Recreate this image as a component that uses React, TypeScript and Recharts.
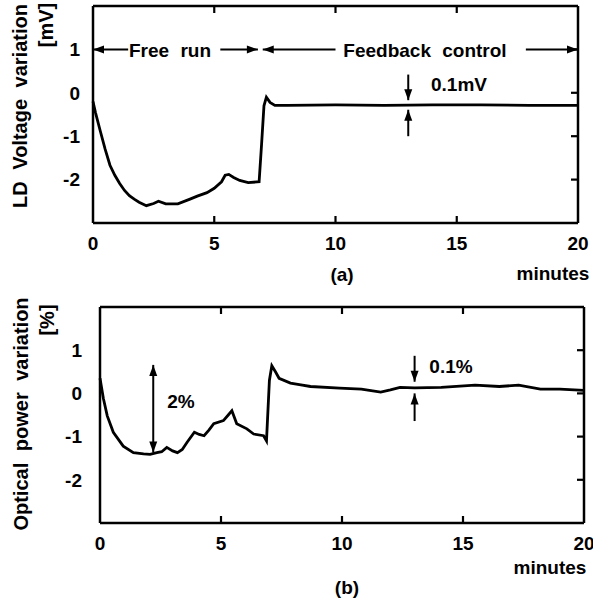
import React from 'react';
import { LineChart, Line, XAxis, YAxis, ReferenceLine } from 'recharts';

const xTicks = [0, 5, 10, 15, 20];
const yTicks = [-2, -1, 0, 1];
const innerXTicks = [5, 10, 15];

// (a) LD voltage variation [mV] vs minutes
const ldTime = [0, 0.1, 0.3, 0.5, 0.7, 0.9, 1.1, 1.3, 1.5, 1.7, 1.9, 2.2, 2.5, 2.7, 3.0, 3.5, 4.0, 4.3, 4.7, 5.0, 5.3, 5.45, 5.6, 5.8, 6.05, 6.4, 6.85, 6.95, 7.05, 7.15, 7.3, 7.5, 8, 10, 12, 14, 16, 18, 20];
const ldVoltage = [-0.2, -0.45, -0.88, -1.3, -1.67, -1.9, -2.09, -2.25, -2.37, -2.45, -2.52, -2.6, -2.55, -2.5, -2.56, -2.56, -2.45, -2.38, -2.3, -2.2, -2.05, -1.9, -1.88, -1.95, -2.02, -2.07, -2.05, -1.2, -0.3, -0.1, -0.22, -0.29, -0.29, -0.28, -0.29, -0.28, -0.28, -0.29, -0.29];

// (b) optical power variation [%] vs minutes
const powerTime = [0, 0.14, 0.3, 0.55, 0.96, 1.38, 1.8, 2.07, 2.35, 2.55, 2.76, 3.0, 3.2, 3.4, 3.6, 3.9, 4.1, 4.3, 4.5, 4.7, 5.1, 5.3, 5.45, 5.65, 6.07, 6.35, 6.76, 6.88, 7.0, 7.1, 7.25, 7.4, 7.87, 8.3, 8.7, 9.9, 10.8, 11.6, 12.0, 12.4, 13.0, 14.1, 15.5, 16.5, 17.3, 18.2, 19.0, 20];
const powerVariation = [0.35, -0.12, -0.52, -0.9, -1.22, -1.37, -1.4, -1.41, -1.37, -1.35, -1.25, -1.33, -1.37, -1.3, -1.13, -0.9, -0.95, -0.98, -0.85, -0.7, -0.63, -0.5, -0.4, -0.7, -0.82, -0.94, -0.98, -1.1, 0.3, 0.64, 0.5, 0.35, 0.24, 0.2, 0.16, 0.12, 0.1, 0.03, 0.08, 0.14, 0.13, 0.14, 0.19, 0.16, 0.19, 0.1, 0.1, 0.07];

// annotation arrows in data units: [x1, y1, x2, y2, doubleHeaded]
const ldArrows: [number, number, number, number, boolean][] = [
  [1.45, 1, 0, 1, false],
  [5.25, 1, 6.8, 1, false],
  [10.0, 1, 7.0, 1, false],
  [17.85, 1, 20, 1, false],
  [13, 0.42, 13, -0.17, false],
  [13, -1.0, 13, -0.39, false],
];
const powerArrows: [number, number, number, number, boolean][] = [
  [2.2, -1.37, 2.2, 0.66, true],
  [13, 0.87, 13, 0.27, false],
  [13, -0.64, 13, 0.0, false],
];

const ldData = ldTime.map((t, i) => ({ t, v: ldVoltage[i] }));
const powerData = powerTime.map((t, i) => ({ t, v: powerVariation[i] }));

const FONT = '"Liberation Sans", Arial, sans-serif';
const tickStyle = { fill: '#000', fontSize: 19, fontWeight: 700, fontFamily: FONT };
const axisLineStyle = { stroke: '#000', strokeWidth: 2.5 };
const TICK_LEN = 7;

const headPoints = (x: number, y: number, fx: number, fy: number) => {
  const dx = x - fx;
  const dy = y - fy;
  const len = Math.hypot(dx, dy) || 1;
  const ux = dx / len;
  const uy = dy / len;
  const L = 11;
  const W = 4;
  const bx = x - ux * L;
  const by = y - uy * L;
  return `${x},${y} ${bx - uy * W},${by + ux * W} ${bx + uy * W},${by - ux * W}`;
};

const arrowShape = (both: boolean) => (props: any) => {
  const { x1, y1, x2, y2 } = props;
  if (x1 == null || y1 == null) return null;
  return (
    <g>
      <line x1={x1} y1={y1} x2={x2} y2={y2} stroke="#000" strokeWidth={2} />
      <polygon points={headPoints(x2, y2, x1, y1)} fill="#000" />
      {both && <polygon points={headPoints(x1, y1, x2, y2)} fill="#000" />}
    </g>
  );
};

// inward tick marks: only the ends of a full-height / full-width reference line
const vTickShape = (props: any) => {
  const { x1, y1, y2 } = props;
  if (x1 == null) return null;
  const top = Math.min(y1, y2);
  const bottom = Math.max(y1, y2);
  return (
    <g>
      <line x1={x1} x2={x1} y1={top} y2={top + TICK_LEN} stroke="#000" strokeWidth={2.2} />
      <line x1={x1} x2={x1} y1={bottom - TICK_LEN} y2={bottom} stroke="#000" strokeWidth={2.2} />
    </g>
  );
};

const hTickShape = (props: any) => {
  const { x1, x2, y1 } = props;
  if (y1 == null) return null;
  const right = Math.max(x1, x2);
  return <line x1={right - TICK_LEN} x2={right} y1={y1} y2={y1} stroke="#000" strokeWidth={2.2} />;
};

const Txt = ({ x, y, text, rotate, size = 19 }: { x: number; y: number; text: string; rotate?: boolean; size?: number }) => (
  <div
    style={{
      position: 'absolute',
      left: x,
      top: y,
      transform: 'translate(-50%, -50%)' + (rotate ? ' rotate(-90deg)' : ''),
      whiteSpace: 'nowrap',
      fontSize: size,
      fontWeight: 700,
      lineHeight: 1,
      wordSpacing: 6,
      fontFamily: FONT,
      color: '#000',
    }}
  >
    {text}
  </div>
);

interface PanelProps {
  data: { t: number; v: number }[];
  arrows: [number, number, number, number, boolean][];
  height: number;
  margin: { top: number; right: number; bottom: number; left: number };
  leftTickMargin: number;
}

const Panel = ({ data, arrows, height, margin, leftTickMargin }: PanelProps) => (
  <LineChart width={593} height={height} data={data} margin={margin}>
    <XAxis
      dataKey="t"
      type="number"
      domain={[0, 20]}
      ticks={xTicks}
      interval={0}
      height={30}
      tickSize={0}
      tickMargin={14}
      tick={tickStyle}
      axisLine={axisLineStyle}
      tickLine={false}
    />
    <XAxis
      xAxisId="top"
      orientation="top"
      dataKey="t"
      type="number"
      domain={[0, 20]}
      ticks={xTicks}
      height={1}
      mirror
      tick={false}
      axisLine={axisLineStyle}
      tickLine={false}
    />
    <YAxis
      type="number"
      domain={[-3, 2]}
      ticks={yTicks}
      interval={0}
      width={60}
      tickSize={0}
      tickMargin={leftTickMargin}
      tick={tickStyle}
      axisLine={axisLineStyle}
      tickLine={false}
    />
    <YAxis
      yAxisId="right"
      orientation="right"
      type="number"
      domain={[-3, 2]}
      ticks={yTicks}
      width={1}
      mirror
      tick={false}
      axisLine={axisLineStyle}
      tickLine={false}
    />
    {innerXTicks.map((t) => (
      <ReferenceLine key={'xt' + t} x={t} shape={vTickShape} />
    ))}
    {yTicks.map((v) => (
      <ReferenceLine key={'yt' + v} y={v} shape={hTickShape} />
    ))}
    <Line
      dataKey="v"
      type="linear"
      stroke="#000"
      strokeWidth={2.8}
      dot={false}
      isAnimationActive={false}
    />
    {arrows.map((a, i) => (
      <ReferenceLine
        key={i}
        segment={[{ x: a[0], y: a[1] }, { x: a[2], y: a[3] }]}
        ifOverflow="visible"
        shape={arrowShape(a[4])}
      />
    ))}
  </LineChart>
);

export default function App() {
  return (
    <div style={{ position: 'absolute', left: 0, top: 0, width: 593, height: 598, background: '#fff', fontFamily: FONT }}>
      <div style={{ position: 'absolute', left: 0, top: 0 }}>
        <Panel
          data={ldData}
          arrows={ldArrows}
          height={290}
          margin={{ top: 6, right: 15, bottom: 37, left: 33 }}
          leftTickMargin={13}
        />
      </div>
      <div style={{ position: 'absolute', left: 0, top: 290 }}>
        <Panel
          data={powerData}
          arrows={powerArrows}
          height={308}
          margin={{ top: 17, right: 9, bottom: 45, left: 40 }}
          leftTickMargin={18}
        />
      </div>
      <Txt x={20} y={106} text="LD Voltage variation" rotate size={20} />
      <Txt x={46} y={25} text="[mV]" rotate size={20} />
      <Txt x={170} y={50} text="Free run" />
      <Txt x={425} y={50} text="Feedback control" />
      <Txt x={459} y={84} text="0.1mV" />
      <Txt x={342} y={274} text="(a)" />
      <Txt x={553} y={273} text="minutes" />

      <Txt x={21} y={414} text="Optical power variation" rotate size={20} />
      <Txt x={47} y={320} text="[%]" rotate size={20} />
      <Txt x={181} y={401} text="2%" />
      <Txt x={451} y={366} text="0.1%" />
      <Txt x={550} y={567} text="minutes" />
      <Txt x={347} y={587} text="(b)" />
    </div>
  );
}
